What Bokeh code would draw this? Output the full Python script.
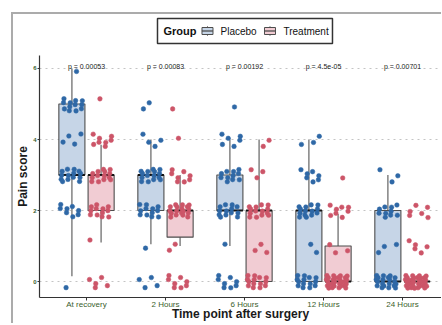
import numpy as np
from bokeh.plotting import figure
from bokeh.layouts import column
from bokeh.models import FixedTicker, ColumnDataSource, Range1d
from bokeh.core.properties import value
from bokeh.embed import file_html
from bokeh.resources import INLINE

# ---------------- data ----------------
time_points = ["At recovery", "2 Hours", "6 Hours", "12 Hours", "24 Hours"]
groups = ["Placebo", "Treatment"]
p_values = ["p = 0.00053", "p = 0.00083", "p = 0.00192", "p = 4.5e-05", "p = 0.00701"]

# number of patients at pain score 0,1,2,3,4,5,6 per time point
placebo_counts = [
    [1, 0, 8, 14, 4, 12, 1],
    [4, 1, 12, 15, 4, 2, 0],
    [8, 1, 13, 11, 6, 1, 0],
    [14, 2, 14, 7, 3, 0, 0],
    [20, 3, 10, 3, 0, 0, 0],
]
treatment_counts = [
    [5, 1, 12, 14, 8, 1, 0],
    [8, 2, 18, 8, 1, 1, 0],
    [14, 3, 14, 3, 2, 0, 0],
    [28, 3, 8, 1, 0, 0, 0],
    [32, 5, 6, 0, 0, 0, 0],
]

# box statistics
placebo_low = [0.15, 1.05, 1.0, 0, 0]
placebo_q1 = [3, 2, 2, 0, 0]
placebo_med = [3, 3, 2, 2, 0]
placebo_q3 = [5, 3, 3, 2, 2]
placebo_high = [6, 4, 4, 4, 3]

treatment_low = [1.1, 1.0, 0, 0, 0]
treatment_q1 = [2, 1.25, 0, 0, 0]
treatment_med = [3, 2, 2, 0, 0]
treatment_q3 = [3, 2, 2, 1, 0]
treatment_high = [3.85, 3.0, 4, 1.9, 0]

# ---------------- styling ----------------
FONT = "Liberation Sans"
BLUE_PT = "#2f68a6"
RED_PT = "#cc5568"
BLUE_FILL = "#c6d5e7"
RED_FILL = "#f1ccd3"
BOX_LINE = "#4d4d4d"
WHISK = "#8a8a8a"
TICK_COL = "#3b5e2b"

DODGE = 0.185
BOX_W = 0.33
W = 428


def jitter_points(counts, center):
    xs, ys = [], []
    k = 0
    for score, n in enumerate(counts):
        for _ in range(n):
            k += 1
            xs.append(center + (((0.5 + k * 0.7548776662) % 1) - 0.5) * 0.30)
            ys.append(score + (((0.5 + k * 0.5698402910) % 1) - 0.5) * 0.40)
    return xs, ys


xr = Range1d(0.405, 5.494)

# ---------------- main plot ----------------
p = figure(width=W, height=276, x_range=xr, y_range=(-0.45, 6.366),
           output_backend="svg", toolbar_location=None,
           min_border_left=26, min_border_right=0, min_border_top=8, min_border_bottom=24)
p.outline_line_color = None

xpos = np.arange(1, len(time_points) + 1)

specs = [
    ("Placebo", -DODGE, placebo_low, placebo_q1, placebo_med, placebo_q3, placebo_high,
     placebo_counts, BLUE_FILL, BLUE_PT),
    ("Treatment", DODGE, treatment_low, treatment_q1, treatment_med, treatment_q3, treatment_high,
     treatment_counts, RED_FILL, RED_PT),
]

for name, off, lo, q1, med, q3, hi, counts, fill, ptc in specs:
    xs = xpos + off
    src = ColumnDataSource(dict(x=xs, lo=lo, q1=q1, med=med, q3=q3, hi=hi,
                                xl=xs - BOX_W / 2, xr=xs + BOX_W / 2))
    p.segment(x0="x", y0="lo", x1="x", y1="hi", source=src, line_color=WHISK, line_width=1.6)
    p.vbar(x="x", bottom="q1", top="q3", width=BOX_W, source=src,
           fill_color=fill, line_color=BOX_LINE, line_width=1.1)
    p.segment(x0="xl", y0="med", x1="xr", y1="med", source=src, line_color="#111111", line_width=2.2)

for name, off, lo, q1, med, q3, hi, counts, fill, ptc in specs:
    allx, ally = [], []
    for i, c in enumerate(counts):
        jx, jy = jitter_points(c, xpos[i] + off)
        allx += jx
        ally += jy
    p.scatter(allx, ally, size=4.6, fill_color=ptc, line_color=ptc, line_width=0.5)

p.text(x=xpos, y=[6] * len(xpos), text=p_values, text_font=value(FONT), text_font_size="7px",
       text_align="center", text_baseline="middle", y_offset=-1.5, text_color="#222222")

p.xaxis.ticker = FixedTicker(ticks=list(xpos))
p.xaxis.major_label_overrides = {int(i): t for i, t in zip(xpos, time_points)}
p.yaxis.ticker = FixedTicker(ticks=[0, 2, 4, 6])
for ax in (p.xaxis, p.yaxis):
    ax.axis_line_color = "#333333"
    ax.axis_line_width = 1.2
    ax.major_tick_line_color = "#333333"
    ax.major_tick_out = 3
    ax.major_tick_in = 0
    ax.minor_tick_line_color = None
    ax.major_label_text_color = TICK_COL
    ax.major_label_text_font = FONT
    ax.axis_label_text_font = FONT
    ax.axis_label_text_font_style = "bold"
    ax.axis_label_text_color = "#1a1a1a"
p.yaxis.major_tick_out = 2
p.xaxis.major_label_text_font_size = "8px"
p.yaxis.major_label_text_font_size = "6px"
p.yaxis.major_label_text_font_style = "bold"
p.xaxis.major_label_standoff = -1
p.yaxis.major_label_standoff = 1
p.xaxis.axis_label = "Time point after surgery"
p.yaxis.axis_label = "Pain score"
p.xaxis.axis_label_text_font_size = "12px"
p.yaxis.axis_label_text_font_size = "12px"
p.xaxis.axis_label_standoff = -5
p.yaxis.axis_label_standoff = 0

p.xgrid.visible = False
p.ygrid.grid_line_color = "#c4c4c4"
p.ygrid.grid_line_dash = "dotted"
p.ygrid.grid_line_width = 1

# ---------------- legend strip (shares the x scale of the plot) ----------------
LH = 33


def px_to_x(px):
    # horizontal pixel offset from the first category -> x units (79 px per category)
    return 1 + px / 79.0


leg = figure(width=W, height=LH, x_range=xr, y_range=(0, LH),
             x_axis_type=None, y_axis_type=None, output_backend="svg",
             toolbar_location=None, min_border=0, min_border_left=26, min_border_right=0)
leg.outline_line_color = None
leg.grid.visible = False

box_b, box_t = 4, 29
ymid = (box_b + box_t) / 2
leg.quad(left=[px_to_x(71)], right=[px_to_x(246)], bottom=[box_b], top=[box_t],
         fill_color="white", line_color="#333333", line_width=1.5)
leg.text(x=[px_to_x(77)], y=[ymid], text=["Group"], text_font=value(FONT), text_font_style="bold",
         text_font_size="11px", text_baseline="middle", text_align="left", text_color="#111111")
icon_x = [px_to_x(121), px_to_x(183.5)]
label_x = [px_to_x(134), px_to_x(197)]
fills = [BLUE_FILL, RED_FILL]
leg.segment(x0=icon_x, y0=[ymid - 5] * 2, x1=icon_x, y1=[ymid + 5] * 2,
            line_color=WHISK, line_width=1)
leg.rect(x=icon_x, y=[ymid] * 2, width=11, width_units="screen", height=7,
         fill_color=fills, line_color=BOX_LINE, line_width=1)
leg.rect(x=icon_x, y=[ymid] * 2, width=11, width_units="screen", height=0.01,
         fill_color=None, line_color=BOX_LINE, line_width=0.8)
leg.text(x=label_x, y=[ymid] * 2, text=groups, text_font=value(FONT), text_font_size="10px",
         text_baseline="middle", text_align="left", text_color="#111111")

layout = column(leg, p, spacing=0)
layout.styles = {"margin-left": "11px", "margin-top": "12px",
                 "border-left": "2px solid #ababab", "border-top": "2px solid #ababab"}

open("out.html", "w").write(file_html(layout, INLINE))
